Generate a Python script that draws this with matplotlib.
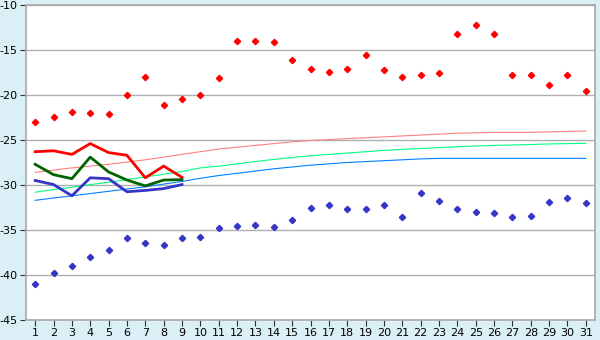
import numpy as np
import matplotlib
matplotlib.use("Agg")
import matplotlib.pyplot as plt

plt.rcParams['axes.unicode_minus'] = False
plt.rcParams['font.family'] = ['DejaVu Sans']

days = list(range(1, 32))

# daily extremes
t_max = [-23.0, -22.4, -21.9, -22.0, -22.1, -20.0, -18.0, -21.1, -20.4, -20.0,
         -18.1, -14.0, -14.0, -14.1, -16.1, -17.1, -17.4, -17.1, -15.6, -17.2,
         -18.0, -17.8, -17.6, -13.2, -12.2, -13.2, -17.8, -17.8, -18.9, -17.8, -19.6]
t_min = [-41.0, -39.8, -39.0, -38.0, -37.2, -35.9, -36.4, -36.7, -35.9, -35.8,
         -34.8, -34.6, -34.4, -34.7, -33.9, -32.6, -32.2, -32.7, -32.7, -32.2,
         -33.6, -30.9, -31.8, -32.7, -33.0, -33.1, -33.5, -33.4, -31.9, -31.4, -32.0]

# observed so far (days 1-9)
obs_days = days[:9]
obs_max = [-26.3, -26.2, -26.6, -25.4, -26.4, -26.7, -29.2, -27.9, -29.15]
obs_mean = [-27.7, -28.85, -29.3, -26.9, -28.55, -29.45, -30.1, -29.45, -29.4]
obs_min = [-29.5, -29.95, -31.2, -29.2, -29.3, -30.75, -30.6, -30.4, -29.95]

# climate normals
norm_max = [-28.6, -28.35, -28.1, -27.9, -27.7, -27.45, -27.2, -26.9, -26.6, -26.3,
            -26.0, -25.8, -25.6, -25.4, -25.2, -25.05, -24.95, -24.85, -24.75, -24.65,
            -24.55, -24.45, -24.35, -24.25, -24.2, -24.15, -24.15, -24.15, -24.1, -24.04, -24.0]
norm_mean = [-30.8, -30.5, -30.25, -29.95, -29.7, -29.4, -29.1, -28.8, -28.5, -28.1,
             -27.9, -27.65, -27.4, -27.15, -26.95, -26.75, -26.6, -26.45, -26.3, -26.15,
             -26.04, -25.95, -25.85, -25.75, -25.67, -25.6, -25.56, -25.5, -25.44, -25.4, -25.37]
norm_min = [-31.7, -31.45, -31.2, -30.95, -30.7, -30.45, -30.2, -29.9, -29.6, -29.25,
            -28.95, -28.7, -28.45, -28.2, -28.0, -27.8, -27.65, -27.5, -27.4, -27.3,
            -27.2, -27.1, -27.04, -27.04, -27.04, -27.04, -27.04, -27.04, -27.04, -27.04, -27.04]

yticks = [-45, -40, -35, -30, -25, -20, -15, -10]

fig = plt.figure(figsize=(6, 3.4), dpi=100, facecolor='#daeff6')
ax = fig.add_axes([26/600, 20/340, 569/600, 315/340])
ax.set_facecolor('white')

for y in yticks:
    ax.axhline(y, color='#b0b0b0', lw=1.0, zorder=1)

ax.plot(days, norm_max, color='#ff8080', lw=0.8, zorder=2)
ax.plot(days, norm_mean, color='#00ff80', lw=0.8, zorder=2)
ax.plot(days, norm_min, color='#0080ff', lw=0.8, zorder=2)

ax.plot(obs_days, obs_max, color='#ff0000', lw=2.0, zorder=3)
ax.plot(obs_days, obs_mean, color='#006400', lw=2.0, zorder=3)
ax.plot(obs_days, obs_min, color='#3535c8', lw=2.0, zorder=3)

ax.plot(days, t_max, 'D', color='#ff0000', ms=3.2, zorder=4)
ax.plot(days, t_min, 'D', color='#3535c8', ms=3.2, zorder=4)

ax.set_xlim(0.5, 31.5)
ax.set_ylim(-45, -10)
ax.set_xticks(days)
ax.set_yticks(yticks)
ax.tick_params(labelsize=8, length=4, color='#303030', pad=2)

for s in ax.spines.values():
    s.set_color('#a8a8a8')
    s.set_linewidth(1.2)

fig.savefig('out.png', dpi=100, facecolor=fig.get_facecolor())
